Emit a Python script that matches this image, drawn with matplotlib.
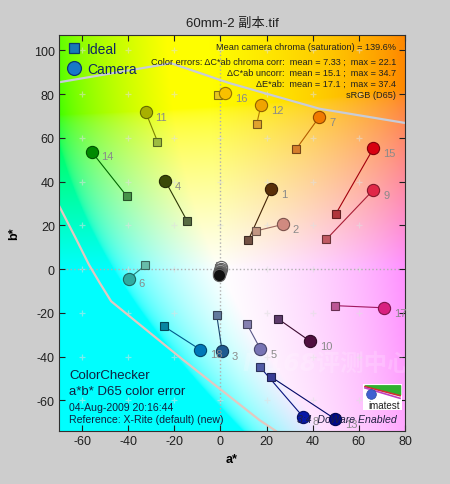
import numpy as np
import matplotlib
matplotlib.use("Agg")
import matplotlib.pyplot as plt
from matplotlib.lines import Line2D

# ---------------- data ----------------
patch_labels = ["1", "2", "3", "4", "5", "6", "7", "8", "9", "10", "11", "12",
                "13", "14", "15", "16", "17", "18", "19", "20", "21", "22", "23", "24"]
ideal_a = [12.1, 15.2, -1.6, -14.4, 11.4, -32.6, 32.9, 17.2, 45.9, 24.8, -27.3, 15.7,
           21.7, -40.5, 50.1, -0.9, 49.7, -24.6, -0.4, -0.6, -0.3, -0.2, -0.2, 0.2]
ideal_b = [13.3, 17.4, -21.2, 21.9, -25.0, 1.7, 55.0, -44.8, 13.6, -22.6, 58.3, 66.2,
           -49.1, 33.2, 25.4, 79.7, -16.7, -26.1, 1.2, 0.3, 0.0, -0.3, -0.6, -0.6]
camera_a = [22.0, 27.0, 0.7, -24.0, 17.3, -39.7, 42.9, 35.7, 66.3, 38.9, -32.4, 17.6,
            49.8, -55.9, 66.3, 2.0, 71.1, -8.8, 0.3, 0.2, 0.0, -0.2, -0.5, -0.8]
camera_b = [36.4, 20.4, -37.3, 40.4, -36.5, -4.3, 69.6, -67.4, 36.2, -33.0, 71.7, 75.1,
            -68.6, 53.7, 55.2, 80.6, -17.7, -36.8, 0.9, 0.1, -0.6, -1.3, -2.0, -2.7]
ideal_colors = ["#735244", "#c29682", "#627a9d", "#576c43", "#8580b1", "#67bdaa",
                "#d67e2c", "#505ba6", "#c15a63", "#5e3c6c", "#9dbc40", "#e0a32e",
                "#383d96", "#469449", "#af363c", "#e7c71f", "#bb5695", "#0885a1",
                "#f3f3f2", "#c8c8c8", "#a0a0a0", "#7a7a79", "#555555", "#343434"]
camera_colors = ["#5a3008", "#d08a80", "#205a90", "#3a4a08", "#7874b4", "#30aaa0",
                 "#f07a00", "#0818a8", "#e02848", "#501040", "#a8b000", "#f0a400",
                 "#000a88", "#008a00", "#d80010", "#f8c000", "#d82080", "#0078b8",
                 "#ffffff", "#d8d8d8", "#a8a8a8", "#707070", "#404040", "#101010"]

# sRGB gamut boundary traces
top_gamut_a = [-70, -21.4, 3.9, 42.9, 80]
top_gamut_b = [85.4, 94.1, 85.0, 73.3, 66.8]
left_gamut_a = [-70, -62.5, -57.0, -52.4, -47.4, -16.3, 16.9, 24.0]
left_gamut_b = [29.0, 13.6, 2.0, -6.2, -14.7, -41.4, -69.0, -74.0]

x_ticks = [-60, -40, -20, 0, 20, 40, 60, 80]
y_ticks = [-60, -40, -20, 0, 20, 40, 60, 80, 100]
xlim = (-70, 80)
ylim = (-74, 107)

title = "60mm-2 副本.tif"
stats_lines = ["Mean camera chroma (saturation) = 139.6%",
               "Color errors: ΔC*ab chroma corr:  mean = 7.33 ;  max = 22.1",
               "ΔC*ab uncorr:  mean = 15.1 ;  max = 34.7",
               "ΔE*ab:  mean = 17.1 ;  max = 37.4",
               "sRGB (D65)"]

FONT = ["Liberation Sans", "Noto Sans CJK SC", "DejaVu Sans"]
plt.rcParams["font.family"] = FONT
plt.rcParams["axes.unicode_minus"] = False


def darker(c, f=0.6):
    r, g, b = matplotlib.colors.to_rgb(c)
    return (r * f, g * f, b * f)


# ---------------- background (a*b* colour plane) ----------------
def lab_plane(L, a, b):
    fy = (L + 16) / 116.0
    fx = fy + a / 500.0
    fz = fy - b / 200.0
    def finv(t):
        return np.where(t > 6 / 29, t ** 3, 3 * (6 / 29) ** 2 * (t - 4 / 29))
    X = np.clip(0.95047 * finv(fx), 0, None)
    Y = 1.0 * finv(fy) * np.ones_like(a)
    Z = np.clip(1.08883 * finv(fz), 0, None)
    M = np.array([[3.2406, -1.5372, -0.4986],
                  [-0.9689, 1.8758, 0.0415],
                  [0.0557, -0.2040, 1.0570]])
    rgb = np.stack([X, Y, Z], axis=-1) @ M.T
    rgb = rgb / finv(np.array(fy))          # exposure so neutral is white
    rgb = np.clip(rgb, 0, 1)
    rgb = np.where(rgb > 0.0031308, 1.055 * rgb ** (1 / 2.4) - 0.055, 12.92 * rgb)
    return np.clip(rgb, 0, 1)

ga, gb = np.meshgrid(np.linspace(xlim[0], xlim[1], 300), np.linspace(ylim[0], ylim[1], 360))
bg = lab_plane(72.0, ga, gb)

# ---------------- figure ----------------
fig = plt.figure(figsize=(4.5, 4.85), dpi=100, facecolor="#cdcdcd")
ax = fig.add_axes([59 / 450, 1 - 432 / 485, 346 / 450, 396 / 485])
ax.imshow(bg, extent=(xlim[0], xlim[1], ylim[0], ylim[1]), origin="lower",
          aspect="auto", interpolation="bilinear", zorder=0)
ax.set_xlim(*xlim)
ax.set_ylim(*ylim)

# grid "+" marks and zero lines
gx, gy = np.meshgrid(x_ticks, y_ticks)
ax.plot(gx.ravel(), gy.ravel(), "+", color="#e0e0e0", ms=5, mew=0.9, alpha=0.55, zorder=1)
ax.axvline(0, color="#b0b0b0", ls=":", lw=1.0, zorder=1)
ax.axhline(0, color="#b0b0b0", ls=":", lw=1.0, zorder=1)

# gamut lines
ax.plot(top_gamut_a, top_gamut_b, color="#c8ccd8", lw=1.6, zorder=2)
ax.plot(left_gamut_a, left_gamut_b, color="#e4c8c0", lw=1.6, zorder=2)

# watermark
ax.text(46, -43, "IT168评测中心", fontsize=17, fontweight="bold", style="italic",
        color="white", alpha=0.18, ha="center", va="center", zorder=2, clip_on=True,
        family=["DejaVu Sans", "Noto Sans CJK SC"])

# patches
for i in range(len(patch_labels)):
    ax.plot([ideal_a[i], camera_a[i]], [ideal_b[i], camera_b[i]],
            color=darker(camera_colors[i], 0.75), lw=0.8, zorder=3)
    ax.plot(ideal_a[i], ideal_b[i], "s", ms=5.5, mfc=ideal_colors[i],
            mec=darker(ideal_colors[i], 0.55), mew=0.8, zorder=4)
for i in range(len(patch_labels)):
    ax.plot(camera_a[i], camera_b[i], "o", ms=8.8, mfc=camera_colors[i],
            mec=darker(camera_colors[i], 0.6) if i < 18 else "#606060", mew=0.8, zorder=5)
    if i < 18:
        ax.annotate(patch_labels[i], (camera_a[i], camera_b[i]), xytext=(7, -3.5),
                    textcoords="offset points", fontsize=8, color="#8a8a8a",
                    ha="left", va="center", zorder=6)

# axes styling
ax.set_xticks(x_ticks)
ax.set_yticks(y_ticks)
ax.tick_params(direction="in", top=True, right=True, length=4, width=0.8,
               labelsize=9, colors="#202020", pad=3)
for s in ax.spines.values():
    s.set_color("#303030")
    s.set_linewidth(0.8)
ax.set_xlabel("a*", fontsize=9, fontweight="bold", labelpad=4)
ax.set_ylabel("b*", fontsize=9, fontweight="bold", labelpad=10)
fig.text(232 / 450, 1 - 24 / 485, title, ha="center", va="center", fontsize=9.5, color="#202020")

# legend
handles = [Line2D([], [], marker="s", ls="none", ms=6.5, mfc="#1878b8", mec="#0a3a70", mew=0.9),
           Line2D([], [], marker="o", ls="none", ms=10, mfc="#1878c8", mec="#0a3a70", mew=0.9)]
leg = ax.legend(handles, ["Ideal", "Camera"], loc="upper left", frameon=False,
                fontsize=10, handletextpad=0.3, labelspacing=0.45, borderaxespad=0.2,
                handlelength=1.2, borderpad=0.3)
for t in leg.get_texts():
    t.set_color("#102860")

# statistics block
ys = [0.970, 0.933, 0.905, 0.877, 0.849]
for y, line in zip(ys, stats_lines):
    ax.text(0.974, y, line, transform=ax.transAxes, ha="right", va="center",
            fontsize=6.6, color="#202020", zorder=7)

# bottom-left text
ax.text(0.029, 0.141, "ColorChecker", transform=ax.transAxes, fontsize=9.5,
        color="#102040", va="center", zorder=7)
ax.text(0.029, 0.101, "a*b* D65 color error", transform=ax.transAxes, fontsize=9.5,
        color="#102040", va="center", zorder=7)
ax.text(0.029, 0.061, "04-Aug-2009 20:16:44", transform=ax.transAxes, fontsize=7.6,
        color="#102040", va="center", zorder=7)
ax.text(0.029, 0.030, "Reference: X-Rite (default) (new)", transform=ax.transAxes,
        fontsize=7.6, color="#102040", va="center", zorder=7)
ax.text(0.977, 0.030, "3:4  DcWare Enabled", transform=ax.transAxes, fontsize=7.6,
        style="italic", color="#202040", ha="right", va="center", zorder=7)

# imatest logo
lg = fig.add_axes([363 / 450, 1 - 411 / 485, 39 / 450, 26 / 485])
lg.set_xlim(0, 1)
lg.set_ylim(0, 1)
lg.set_facecolor("white")
for s in lg.spines.values():
    s.set_visible(False)
lg.set_xticks([])
lg.set_yticks([])
lg.fill_between([0.05, 0.95], [0.95, 0.95], [0.95, 0.6], color="#30b030")
lg.plot([0.05, 0.95], [0.9, 0.55], color="#d03030", lw=1.2)
lg.plot([0.05, 0.95], [0.85, 0.45], color="#c040c0", lw=1.2)
lg.plot(0.2, 0.6, "o", ms=7, mfc="#4060d0", mec="#3050a0", mew=0.5)
lg.text(0.55, 0.2, "imatest", ha="center", va="center", fontsize=7, color="#202020")

fig.savefig("out.png", dpi=100, facecolor=fig.get_facecolor())
